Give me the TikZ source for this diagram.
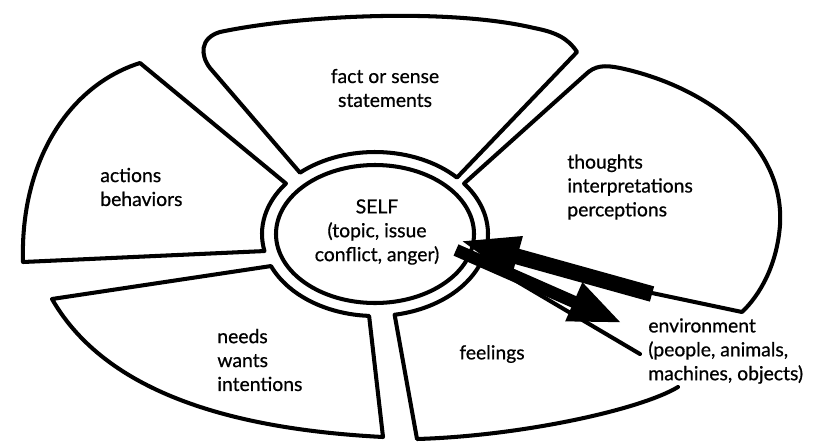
\documentclass[tikz,border=0pt]{standalone}
\usepackage{fontspec}
\setmainfont{Lato}[FakeBold=0.7]
\usetikzlibrary{calc,arrows.meta}

\begin{document}
\begin{tikzpicture}[x=0.02cm, y=-0.02cm,
  petal/.style={line width=2.3pt, line join=round, line cap=round},
  lbl/.style={font=\fontsize{11}{13.6}\selectfont, align=left, inner sep=0pt},
  bigarrow/.style={line width=#1, line cap=butt}]
  \useasboundingbox (0,0) rectangle (828,447);

  % Centre ring
  \coordinate (c) at (375,234);
  \draw[petal] (c) ellipse[x radius=99, y radius=69];

  % Petals
  \draw[petal] ($(c)+(-43.5:113 and 82)$) -- (577,52)
    .. controls (568,38) and (555,32) .. (534,28)
    .. controls (450,8) and (300,15) .. (220,32)
    .. controls (200,38) and (200,55) .. (210,68)
    -- ($(c)+(-131.6:113 and 82)$)
    arc[start angle=-131.6, end angle=-43.5, x radius=113, y radius=82] -- cycle;
  \draw[petal] ($(c)+(218:113 and 82)$) -- (140,63)
    .. controls (70,85) and (20,160) .. (23,262)
    -- ($(c)+(168:113 and 82)$)
    arc[start angle=168, end angle=218, x radius=113, y radius=82] -- cycle;
  \draw[petal] ($(c)+(93:113 and 82)$) -- (383,437)
    .. controls (250,430) and (110,400) .. (52,299)
    -- ($(c)+(157:113 and 82)$)
    arc[start angle=157, end angle=93, x radius=113, y radius=82] -- cycle;
  \draw[petal] (640,354) -- ($(c)+(19:113 and 82)$)
    arc[start angle=19, end angle=80, x radius=113, y radius=82]
    -- (417,439) .. controls (520,436) and (640,410) .. (678,387);
  \draw[petal] ($(c)+(8:113 and 82)$)
    arc[start angle=8, end angle=-38, x radius=113, y radius=82]
    -- (585,75) .. controls (595,65) and (605,65) .. (620,68)
    .. controls (700,85) and (785,140) .. (780,225)
    .. controls (777,265) and (760,295) .. (742,312) -- (652,293);

  % Labels
  \node[lbl, align=center] (fact) at (385,88) {fact or sense\\statements};
  \node[lbl, anchor=west] (actions) at (100,187) {actions\\behaviors};
  \node[lbl, anchor=west] (thoughts) at (567,187) {thoughts\\interpretations\\perceptions};
  \node[lbl, align=center] (self) at (377,232) {SELF\\(topic, issue\\conflict, anger)};
  \node[lbl, anchor=west] (needs) at (217,360) {needs\\wants\\intentions};
  \node[lbl] (feelings) at (492,354) {feelings};
  \node[lbl, anchor=west] (env) at (648,351) {environment\\(people, animals,\\machines, objects)};

  % Arrows
  \coordinate (env in) at (652,294);
  \coordinate (self in) at (458,240);
  \coordinate (self out) at (456,250);
  \coordinate (env out) at (622,323);
  \draw[bigarrow=9pt, -{Triangle[length=35pt, width=21pt]}] (env in) -- (self in);
  \draw[bigarrow=7pt, -{Triangle[length=30pt, width=22pt]}] (self out) -- (env out);
\end{tikzpicture}
\end{document}
